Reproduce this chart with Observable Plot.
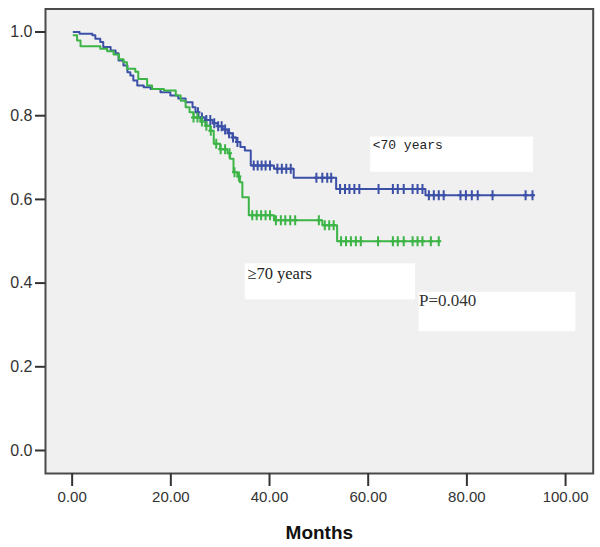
<!DOCTYPE html>
<html>
<head>
<meta charset="utf-8">
<script src="https://cdn.jsdelivr.net/npm/d3@7"></script>
<script src="https://cdn.jsdelivr.net/npm/@observablehq/plot@0.6"></script>
<style>
  html, body { margin: 0; padding: 0; background: #ffffff; }
  #chart svg { display: block; }
</style>
</head>
<body>
<div id="chart"></div>
<script>
// ---- Data ----
const groupNames = ["<70 years", "≥70 years"];

// <70 years: step times (months) and survival after each step
const youngTimes = [0.3, 1.5, 4.1, 4.7, 5.7, 6.3, 7.8, 8.8, 9.4, 10.4, 11.2, 11.8, 12.4, 13.2, 14.5, 15.9, 17.9, 19.9, 21.5, 23.0, 24.4, 25.0, 25.6, 27.0, 28.5, 29.5, 30.5, 31.5, 32.5, 33.3, 34.1, 35.0, 36.2, 40.9, 44.9, 53.5, 71.6];
const youngSurv  = [1.000, 0.996, 0.992, 0.984, 0.976, 0.964, 0.956, 0.949, 0.932, 0.920, 0.904, 0.896, 0.884, 0.872, 0.868, 0.864, 0.856, 0.848, 0.841, 0.832, 0.820, 0.808, 0.796, 0.790, 0.782, 0.775, 0.767, 0.758, 0.748, 0.737, 0.725, 0.717, 0.681, 0.673, 0.652, 0.625, 0.610];
const youngEnd = 93.5;
const youngCensored = [25.5, 26.3, 27.2, 28.0, 28.8, 29.6, 30.3, 31.0, 31.8, 32.6, 33.5, 36.8, 37.6, 38.4, 39.2, 40.1, 41.6, 42.5, 43.4, 44.3, 49.5, 50.7, 51.7, 52.5, 54.3, 55.3, 56.2, 57.2, 58.2, 62.1, 65.0, 66.0, 67.2, 69.0, 70.0, 71.0, 72.3, 73.3, 74.3, 75.3, 78.7, 79.8, 81.0, 82.2, 85.2, 91.9, 93.3];

// >=70 years
const oldTimes = [0.3, 1.0, 1.7, 5.7, 7.1, 8.4, 9.5, 10.4, 11.1, 12.8, 13.4, 15.2, 16.2, 18.6, 21.0, 22.0, 23.0, 23.8, 24.6, 26.0, 27.0, 28.0, 28.7, 30.0, 31.5, 32.0, 32.7, 33.5, 34.0, 34.5, 35.8, 40.9, 50.7, 53.7];
const oldSurv  = [0.992, 0.980, 0.966, 0.960, 0.954, 0.946, 0.935, 0.928, 0.912, 0.905, 0.888, 0.872, 0.864, 0.860, 0.848, 0.836, 0.820, 0.808, 0.796, 0.786, 0.776, 0.764, 0.733, 0.720, 0.710, 0.697, 0.665, 0.655, 0.641, 0.605, 0.562, 0.550, 0.538, 0.500];
const oldEnd = 74.5;
const oldCensored = [24.6, 25.4, 26.3, 27.2, 28.1, 29.2, 30.1, 31.0, 31.9, 32.9, 33.8, 36.5, 37.4, 38.3, 39.2, 40.1, 41.3, 42.3, 43.2, 44.2, 45.2, 50.0, 51.2, 52.1, 53.0, 54.5, 55.5, 56.5, 57.5, 58.5, 62.0, 65.0, 66.0, 67.2, 69.0, 70.0, 71.0, 72.7, 74.3];

const xTicks = [0, 20, 40, 60, 80, 100];
const yTicks = [0, 0.2, 0.4, 0.6, 0.8, 1.0];
const xTitle = "Months";

// annotation boxes (data units) and their texts
const noteTexts = ["<70 years", "≥70 years", "P=0.040"];
const noteX1 = [60.5, 35.1, 70.3];
const noteX2 = [93.5, 69.6, 102.1];
const noteY1 = [0.749, 0.446, 0.378];
const noteY2 = [0.665, 0.360, 0.284];

// ---- Build tables ----
const colors = {"<70 years": "#3b50a6", "≥70 years": "#3cb446"};

function stepRows(name, times, surv, end) {
  const rows = times.map((t, i) => ({group: name, t, s: surv[i]}));
  rows.push({group: name, t: end, s: surv[surv.length - 1]});
  return rows;
}
function censorRows(name, times, surv, cens) {
  const bis = d3.bisector(d => d).right;
  return cens.map(t => {
    const i = Math.max(0, bis(times, t) - 1);
    return {group: name, t, s: surv[i]};
  });
}
const youngLine = stepRows(groupNames[0], youngTimes, youngSurv, youngEnd);
const oldLine = stepRows(groupNames[1], oldTimes, oldSurv, oldEnd);
const youngCens = censorRows(groupNames[0], youngTimes, youngSurv, youngCensored);
const oldCens = censorRows(groupNames[1], oldTimes, oldSurv, oldCensored);
const notes = noteTexts.map((text, i) => ({text, x1: noteX1[i], x2: noteX2[i], y1: noteY1[i], y2: noteY2[i]}));

const vtick = {
  draw(context, size) {
    const h = 5;
    context.moveTo(0, -h);
    context.lineTo(0, h);
    context.moveTo(-2.5, 0);
    context.lineTo(2.5, 0);
  }
};

const chart = Plot.plot({
  width: 600,
  height: 547,
  marginLeft: 45,
  marginRight: 7.3,
  marginTop: 8.5,
  marginBottom: 74,
  style: {background: "#ffffff", fontFamily: "'Liberation Sans', Arial, sans-serif"},
  x: {domain: [-5.4, 105.6]},
  y: {domain: [-0.055, 1.055]},
  marks: [
    Plot.frame({fill: "#f0f0f0", stroke: "none"}),
    Plot.rect(notes, {x1: "x1", x2: "x2", y1: "y1", y2: "y2", fill: "#ffffff"}),
    Plot.line(youngLine, {x: "t", y: "s", curve: "step-after", stroke: colors[groupNames[0]], strokeWidth: 2}),
    Plot.line(oldLine, {x: "t", y: "s", curve: "step-after", stroke: colors[groupNames[1]], strokeWidth: 2}),
    Plot.dot(youngCens, {x: "t", y: "s", symbol: vtick, fill: "none", stroke: colors[groupNames[0]], strokeWidth: 2}),
    Plot.dot(oldCens, {x: "t", y: "s", symbol: vtick, fill: "none", stroke: colors[groupNames[1]], strokeWidth: 2}),
    Plot.text([notes[0]], {x: "x1", y: "y1", text: "text", textAnchor: "start", lineAnchor: "top", dx: 2, dy: 3,
      fontFamily: "'Liberation Mono', 'DejaVu Sans Mono', monospace", fontSize: 13, fill: "#222"}),
    Plot.text([notes[1]], {x: "x1", y: "y1", text: "text", textAnchor: "start", lineAnchor: "top", dx: 2, dy: 3,
      fontFamily: "'Liberation Serif', 'Times New Roman', serif", fontSize: 16.5, fill: "#222"}),
    Plot.text([notes[2]], {x: "x1", y: "y1", text: "text", textAnchor: "start", lineAnchor: "top", dx: 0, dy: 2,
      fontFamily: "'Liberation Serif', 'Times New Roman', serif", fontSize: 17, fill: "#333"}),
    Plot.frame({stroke: "#4a4a4a", strokeWidth: 2}),
    Plot.axisX({ticks: xTicks, tickFormat: d3.format(".2f"), tickSize: 13, tickPadding: 5, stroke: "#333", strokeWidth: 2,
      fill: "#333", fontSize: 15, label: null}),
    Plot.axisY({ticks: yTicks, tickFormat: d3.format(".1f"), tickSize: 10, tickPadding: 3, stroke: "#333", strokeWidth: 2,
      fill: "#333", fontSize: 16, label: null}),
    Plot.text([xTitle], {frameAnchor: "bottom", text: d => d, dy: 59, lineAnchor: "middle",
      fontSize: 19, fontWeight: "bold", fill: "#111"})
  ]
});
document.getElementById("chart").appendChild(chart);
</script>
</body>
</html>
